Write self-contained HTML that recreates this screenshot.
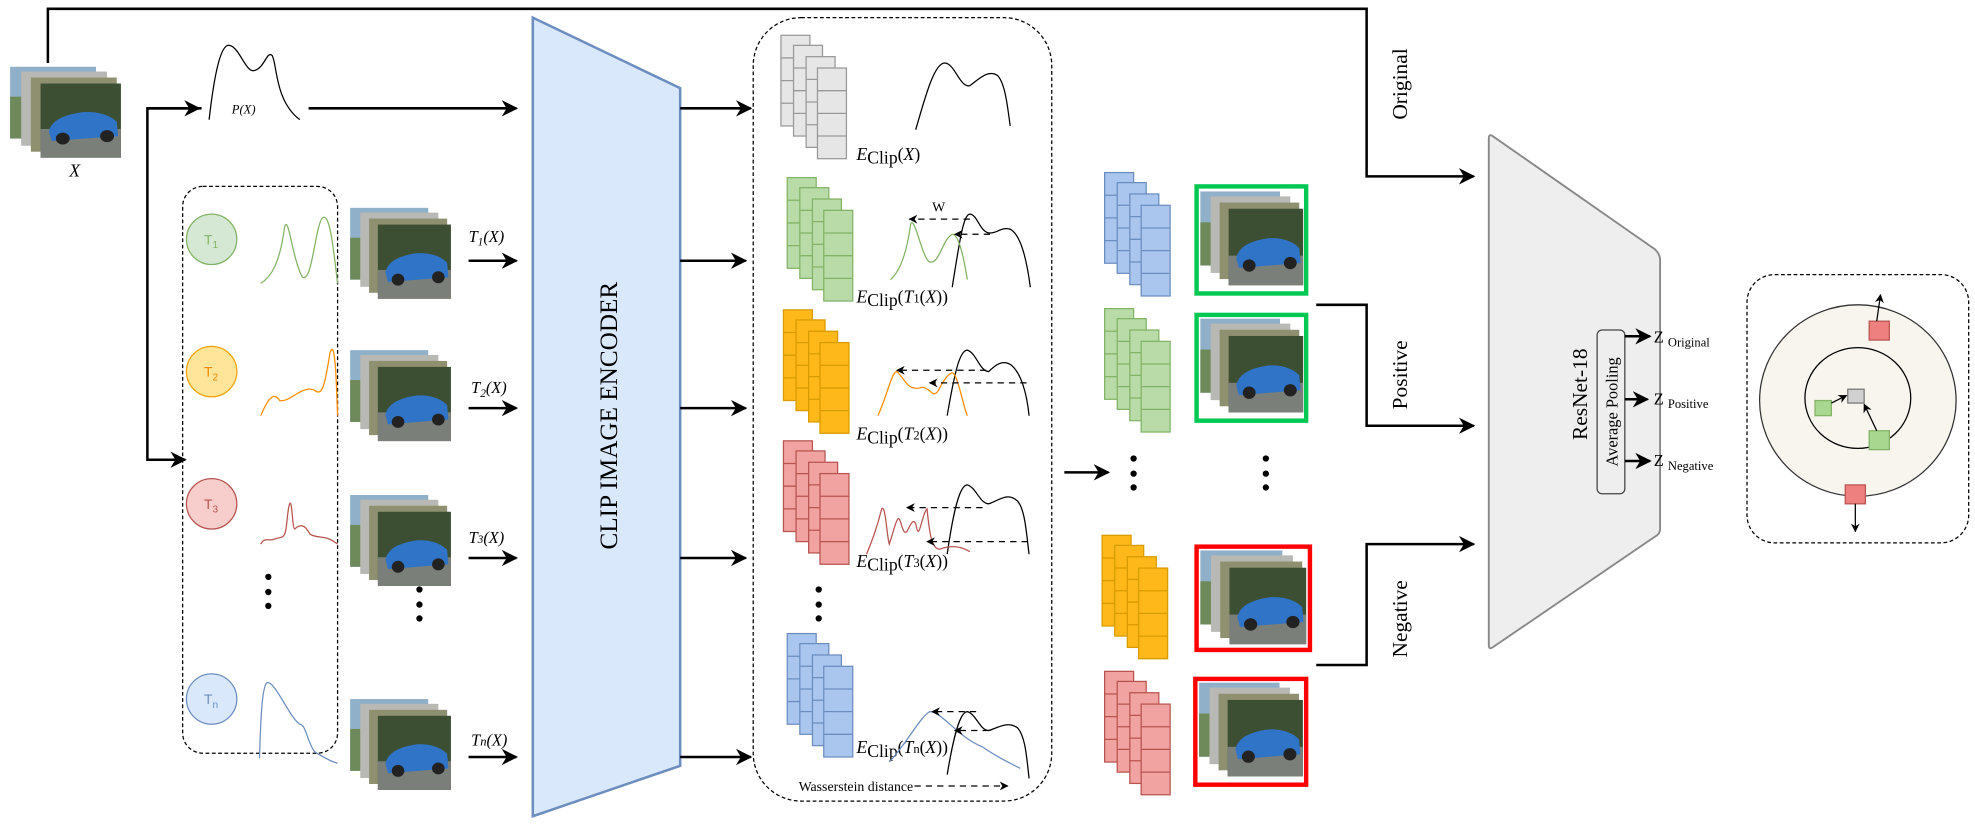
<!DOCTYPE html>
<html><head><meta charset="utf-8"><style>
html,body{margin:0;padding:0;background:#fff;}
svg{display:block;}
text{font-family:"Liberation Serif",serif;}
</style></head><body>
<svg width="1975" height="825" viewBox="0 0 1568 655" xmlns="http://www.w3.org/2000/svg">
<defs>
<marker id="ah" viewBox="0 0 10 10" refX="9" refY="5" markerWidth="7" markerHeight="7" orient="auto" markerUnits="userSpaceOnUse"><path d="M0,0 L10,5 L0,10 L3,5 z" fill="#000"/></marker>
<marker id="ab" viewBox="0 0 10 10" refX="9" refY="5" markerWidth="13" markerHeight="13" orient="auto" markerUnits="userSpaceOnUse"><path d="M0,0 L10,5 L0,10 L3,5 z" fill="#000"/></marker>
<g id="img">
 <rect x="0" y="0" width="62" height="60" fill="#8fb0c8"/>
 <rect x="0" y="25" width="62" height="35" fill="#6f8a5a"/>
 <rect x="8" y="4" width="62" height="62" fill="#b8b8b4"/>
 <rect x="15" y="9" width="62" height="62" fill="#8f9070"/>
 <rect x="22" y="14" width="58" height="62" fill="#3c4f33"/>
 <rect x="22" y="52" width="58" height="24" fill="#7b7f7a"/>
 <path d="M28,54 C30,44 40,40 52,38 C62,37 72,40 77,46 L78,58 L30,62 z" fill="#2f74c6"/>
 <circle cx="38" cy="60" r="5" fill="#222"/><circle cx="70" cy="58" r="5" fill="#222"/>
</g>
<g id="fs">
 <rect x="0" y="0" width="23" height="72"/><path d="M0,18h23M0,36h23M0,54h23" fill="none"/>
 <rect x="10" y="8" width="23" height="72"/><path d="M10,26h23M10,44h23M10,62h23" fill="none"/>
 <rect x="20" y="17" width="23" height="72"/><path d="M20,35h23M20,53h23M20,71h23" fill="none"/>
 <rect x="29" y="26" width="23" height="72"/><path d="M29,44h23M29,62h23M29,80h23" fill="none"/>
</g>
</defs>

<path d="M38,50 V7 H1085 V140 H1170" fill="none" stroke="#000" stroke-width="2" marker-end="url(#ab)"/>
<text transform="translate(1117,95) rotate(-90)" font-size="17">Original</text>

<use href="#img" transform="translate(8,53) scale(1.1,0.95)"/>
<text x="55" y="140" font-size="14" font-style="italic">X</text>

<path d="M160,86 H117 V365 H147" fill="none" stroke="#000" stroke-width="2" marker-end="url(#ab)"/>
<path d="M117,86 H158" fill="none" stroke="#000" stroke-width="2" marker-end="url(#ab)"/>
<path d="M166,95 C170,60 175,35 182,36 C190,37 195,58 202,56 C210,54 212,40 216,44 C220,50 218,80 238,95" fill="none" stroke="#000" stroke-width="1"/>
<text x="184" y="90" font-size="10" font-style="italic">P(X)</text>
<path d="M245,86 H410" fill="none" stroke="#000" stroke-width="2" marker-end="url(#ab)"/>

<rect x="145" y="148" width="123" height="450" rx="16" fill="none" stroke="#000" stroke-dasharray="3,2" stroke-width="1"/>
<circle cx="168" cy="190" r="20" fill="#d5e8d4" stroke="#82b366"/><text x="162" y="194" font-size="11" fill="#82b366" style="font-family:'Liberation Sans'">T<tspan font-size="8" dy="3">1</tspan></text>
<circle cx="168" cy="295" r="20" fill="#ffe599" stroke="#f0a30a"/><text x="162" y="299" font-size="11" fill="#e68a00" style="font-family:'Liberation Sans'">T<tspan font-size="8" dy="3">2</tspan></text>
<circle cx="168" cy="400" r="20" fill="#f8cecc" stroke="#b85450"/><text x="162" y="404" font-size="11" fill="#b85450" style="font-family:'Liberation Sans'">T<tspan font-size="8" dy="3">3</tspan></text>
<circle cx="168" cy="555" r="20" fill="#dae8fc" stroke="#6c8ebf"/><text x="162" y="559" font-size="11" fill="#6c8ebf" style="font-family:'Liberation Sans'">T<tspan font-size="8" dy="3">n</tspan></text>
<g fill="#000"><circle cx="213" cy="458" r="2.5"/><circle cx="213" cy="470" r="2.5"/><circle cx="213" cy="481" r="2.5"/></g>
<path d="M207,225 C215,220 222,210 226,180 C229,170 232,205 240,220 C248,225 250,180 256,173 C262,168 265,200 268,225" fill="none" stroke="#82b366"/>
<path d="M207,330 C212,318 217,310 222,318 C230,320 240,305 250,310 C256,315 258,305 262,280 C266,268 267,300 268,330" fill="none" stroke="#ff8c00"/>
<path d="M207,432 C210,426 214,430 218,428 C222,426 224,428 226,424 C228,420 228,404 230,400 C232,396 232,420 234,420 C238,416 242,416 246,424 C252,428 258,424 268,432" fill="none" stroke="#b85450"/>
<path d="M206,602 C207,570 208,545 212,542 C218,540 230,570 238,575 C243,575 244,590 250,597 C258,602 264,605 268,606" fill="none" stroke="#6c8ebf"/>

<use href="#img" transform="translate(278,165) scale(1,0.95)"/>
<use href="#img" transform="translate(278,278) scale(1,0.95)"/>
<use href="#img" transform="translate(278,393) scale(1,0.95)"/>
<use href="#img" transform="translate(278,555) scale(1,0.95)"/>
<g fill="#000"><circle cx="333" cy="468" r="2.5"/><circle cx="333" cy="480" r="2.5"/><circle cx="333" cy="491" r="2.5"/></g>
<g font-size="13" font-style="italic">
<text x="372" y="192">T<tspan font-size="9" dy="3">1</tspan><tspan dy="-3">(X)</tspan></text>
<text x="374" y="312">T<tspan font-size="9" dy="3">2</tspan><tspan dy="-3">(X)</tspan></text>
<text x="372" y="431">T<tspan font-size="9">3</tspan>(X)</text>
<text x="374" y="592">T<tspan font-size="10">n</tspan>(X)</text>
</g>
<g stroke="#000" stroke-width="2" marker-end="url(#ab)">
<path d="M372,207 H410"/><path d="M372,324 H410"/><path d="M372,443 H410"/><path d="M372,601 H410"/>
</g>

<polygon points="423,14 540,70 540,608 423,648" fill="#dae8fc" stroke="#6c8ebf" stroke-width="2"/>
<text transform="translate(490,330) rotate(-90)" font-size="20" text-anchor="middle">CLIP  IMAGE  ENCODER</text>
<g stroke="#000" stroke-width="2" marker-end="url(#ab)">
<path d="M540,86 H596"/><path d="M540,207 H592"/><path d="M540,324 H592"/><path d="M540,443 H592"/><path d="M540,601 H596"/>
</g>

<rect x="598" y="14" width="237" height="622" rx="38" fill="none" stroke="#000" stroke-dasharray="3,2"/>
<use href="#fs" transform="translate(620,28)" fill="#e6e6e6" stroke="#999"/>
<use href="#fs" transform="translate(625,141)" fill="#b9dba8" stroke="#82b366"/>
<use href="#fs" transform="translate(622,246)" fill="#ffb81a" stroke="#d79b00"/>
<use href="#fs" transform="translate(622,350)" fill="#f1a3a1" stroke="#b85450"/>
<use href="#fs" transform="translate(625,503)" fill="#aac6ef" stroke="#6c8ebf"/>
<g fill="#000"><circle cx="650" cy="468" r="2.5"/><circle cx="650" cy="480" r="2.5"/><circle cx="650" cy="491" r="2.5"/></g>
<g font-size="14">
<text x="680" y="127"><tspan font-style="italic">E</tspan><tspan dy="3">Clip</tspan><tspan dy="-3">(</tspan><tspan font-style="italic">X</tspan>)</text>
<text x="680" y="240"><tspan font-style="italic">E</tspan><tspan dy="3">Clip</tspan><tspan dy="-3">(</tspan><tspan font-style="italic">T</tspan><tspan font-size="10">1</tspan>(<tspan font-style="italic">X</tspan>))</text>
<text x="680" y="349"><tspan font-style="italic">E</tspan><tspan dy="3">Clip</tspan><tspan dy="-3">(</tspan><tspan font-style="italic">T</tspan><tspan font-size="10">2</tspan>(<tspan font-style="italic">X</tspan>))</text>
<text x="680" y="450"><tspan font-style="italic">E</tspan><tspan dy="3">Clip</tspan><tspan dy="-3">(</tspan><tspan font-style="italic">T</tspan><tspan font-size="10">3</tspan>(<tspan font-style="italic">X</tspan>))</text>
<text x="680" y="598"><tspan font-style="italic">E</tspan><tspan dy="3">Clip</tspan><tspan dy="-3">(</tspan><tspan font-style="italic">T</tspan><tspan font-size="10">n</tspan>(<tspan font-style="italic">X</tspan>))</text>
</g>
<g fill="none" stroke="#000" stroke-width="1">
<path d="M727,103 C735,75 742,50 750,50 C758,50 762,70 770,68 C778,62 785,55 792,60 C798,66 800,85 802,100"/>
<path d="M756,228 C762,190 765,170 770,170 C776,170 778,185 786,185 C792,185 795,180 802,182 C810,186 815,205 818,228"/>
<path d="M752,330 C758,295 762,278 768,278 C775,280 778,295 785,295 C790,290 796,285 803,290 C810,296 815,310 817,330"/>
<path d="M752,440 C757,405 762,385 768,385 C775,387 778,400 785,400 C792,398 800,390 808,398 C814,405 815,425 817,440"/>
<path d="M752,615 C757,585 762,565 768,565 C775,567 778,580 785,580 C792,578 800,572 808,578 C814,585 815,600 817,618"/>
</g>
<path d="M707,222 C715,215 720,200 723,178 C726,170 732,205 738,208 C746,210 748,190 756,186 C762,186 766,210 768,222" fill="none" stroke="#82b366"/>
<path d="M697,330 C704,315 708,295 712,295 C718,300 720,310 730,308 C738,305 740,318 745,310 C750,300 754,296 756,296 C760,296 764,320 768,330" fill="none" stroke="#ff8c00"/>
<path d="M688,440 C692,430 696,420 700,404 C703,400 704,425 706,432 C710,420 712,410 714,412 C716,416 717,425 720,422 C724,414 726,410 728,420 C730,428 732,408 736,404 C738,425 740,436 746,436 C752,434 760,432 770,438" fill="none" stroke="#b85450"/>
<path d="M706,605 C720,590 730,570 738,565 C748,565 760,585 780,593 C790,600 800,605 810,610" fill="none" stroke="#6c8ebf"/>
<g stroke="#000" stroke-width="1" stroke-dasharray="5,4" fill="none" marker-end="url(#ah)">
<path d="M770,174 H722"/><path d="M786,186 H758"/>
<path d="M783,294 H712"/><path d="M815,304 H738"/>
<path d="M780,403 H720"/><path d="M816,430 H736"/>
<path d="M775,565 H740"/><path d="M785,580 H758"/>
<path d="M726,624 H800"/>
</g>
<text x="740" y="168" font-size="11">W</text>
<text x="634" y="628" font-size="11">Wasserstein distance</text>

<path d="M845,375 H880" stroke="#000" stroke-width="2" marker-end="url(#ab)"/>
<g fill="#000"><circle cx="900" cy="364" r="2.5"/><circle cx="900" cy="376" r="2.5"/><circle cx="900" cy="387" r="2.5"/>
<circle cx="1005" cy="364" r="2.5"/><circle cx="1005" cy="376" r="2.5"/><circle cx="1005" cy="387" r="2.5"/></g>
<use href="#fs" transform="translate(877,137)" fill="#aac6ef" stroke="#6c8ebf"/>
<use href="#fs" transform="translate(877,245)" fill="#b9dba8" stroke="#82b366"/>
<use href="#fs" transform="translate(875,425)" fill="#ffb81a" stroke="#d79b00"/>
<use href="#fs" transform="translate(877,533)" fill="#f1a3a1" stroke="#b85450"/>
<rect x="950" y="148" width="87" height="85" fill="#fff" stroke="#00c853" stroke-width="3.5"/>
<use href="#img" transform="translate(953,152) scale(1.02,0.98)"/>
<rect x="950" y="250" width="87" height="84" fill="#fff" stroke="#00c853" stroke-width="3.5"/>
<use href="#img" transform="translate(953,253) scale(1.02,0.98)"/>
<rect x="950" y="434" width="90" height="82" fill="#fff" stroke="#ff0000" stroke-width="3.5"/>
<use href="#img" transform="translate(953,437) scale(1.05,0.98)"/>
<rect x="949" y="539" width="88" height="84" fill="#fff" stroke="#ff0000" stroke-width="3.5"/>
<use href="#img" transform="translate(952,542) scale(1.03,0.98)"/>

<path d="M1045,242 H1085 V338 H1170" fill="none" stroke="#000" stroke-width="2" marker-end="url(#ab)"/>
<path d="M1045,528 H1085 V432 H1170" fill="none" stroke="#000" stroke-width="2" marker-end="url(#ab)"/>
<text transform="translate(1117,325) rotate(-90)" font-size="17">Positive</text>
<text transform="translate(1117,522) rotate(-90)" font-size="17">Negative</text>

<path d="M1182,110 Q1182,106 1185,108 L1314,198 Q1318,202 1318,206 L1318,420 Q1318,424 1314,426 L1185,514 Q1182,516 1182,512 Z" fill="#eeeeee" stroke="#888" stroke-width="1.5"/>
<text transform="translate(1260,313) rotate(-90)" font-size="17" text-anchor="middle">ResNet-18</text>
<rect x="1268" y="262" width="22" height="130" rx="4" fill="#eeeeee" stroke="#444"/>
<text transform="translate(1284,327) rotate(-90)" font-size="13" text-anchor="middle">Average Pooling</text>
<g stroke="#000" stroke-width="2" marker-end="url(#ab)"><path d="M1290,267 H1310"/><path d="M1290,317 H1308"/><path d="M1290,366 H1310"/></g>
<g font-size="13"><text x="1313" y="272">Z <tspan font-size="10" dy="3">Original</tspan></text>
<text x="1313" y="321">Z <tspan font-size="10" dy="3">Positive</tspan></text>
<text x="1313" y="370">Z <tspan font-size="10" dy="3">Negative</tspan></text></g>

<rect x="1387" y="218" width="176" height="213" rx="22" fill="none" stroke="#000" stroke-dasharray="3,2"/>
<ellipse cx="1475" cy="318" rx="78" ry="76" fill="#f7f5ee" stroke="#333"/>
<ellipse cx="1475" cy="316" rx="42" ry="40" fill="none" stroke="#000"/>
<rect x="1467" y="309" width="13" height="11" fill="#d0d0d0" stroke="#777"/>
<rect x="1441" y="318" width="13" height="12" fill="#a8d88f" stroke="#82b366"/>
<rect x="1484" y="342" width="16" height="15" fill="#a8d88f" stroke="#82b366"/>
<rect x="1484" y="255" width="16" height="15" fill="#ee8080" stroke="#b85450"/>
<rect x="1465" y="385" width="16" height="15" fill="#ee8080" stroke="#b85450"/>
<g stroke="#000" stroke-width="1" marker-end="url(#ah)">
<path d="M1490,255 L1493,234"/><path d="M1473,400 L1473,422"/>
<path d="M1454,320 L1466,314"/><path d="M1490,342 L1480,321"/>
</g>
</svg>
</body></html>
